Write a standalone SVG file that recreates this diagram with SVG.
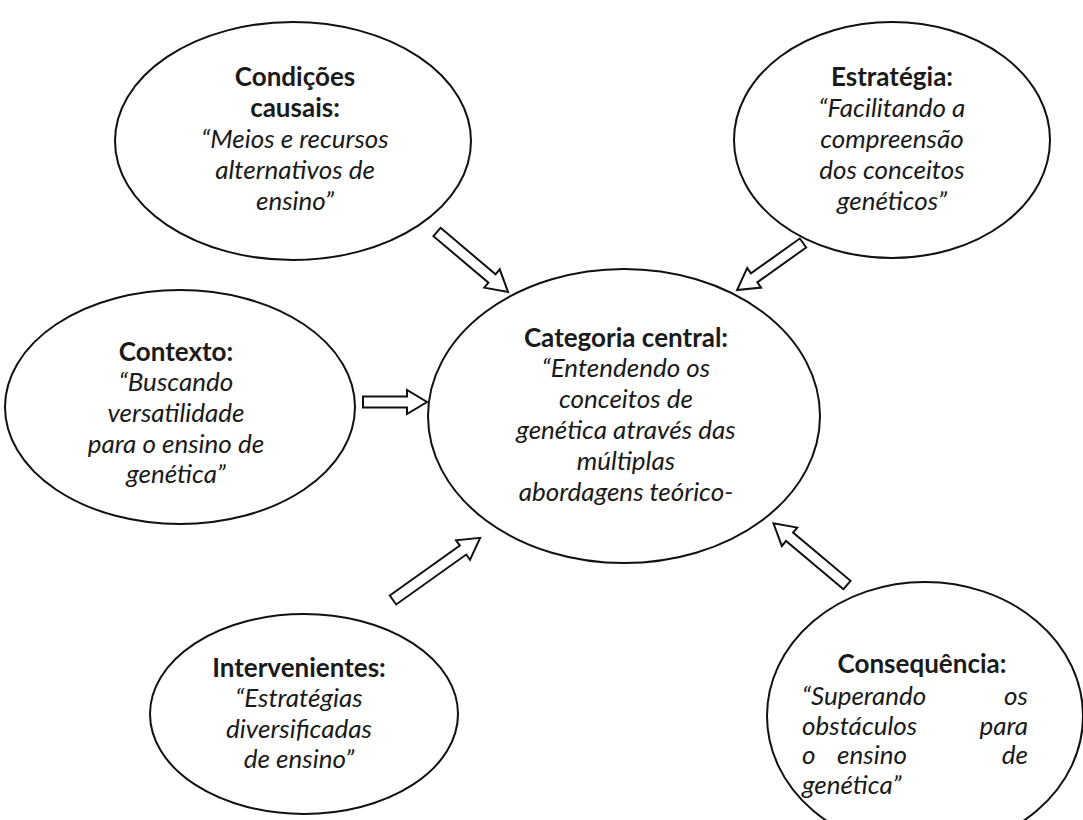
<svg xmlns="http://www.w3.org/2000/svg" width="1083" height="820" viewBox="0 0 1083 820">
  <style>
    .bubble { fill: #ffffff; stroke: #111111; stroke-width: 2; }
    .arrow { fill: #ffffff; stroke: #111111; stroke-width: 2; stroke-linejoin: miter; }
    text { font-family: Lato, "Open Sans", "Liberation Sans", sans-serif; font-size: 26px; fill: #1a1a1a; text-anchor: middle; }
    .title { font-weight: bold; }
    .quote { font-style: italic; }
    .start { text-anchor: start; }
    .end { text-anchor: end; }
    .mid { text-anchor: middle; }
  </style>
  <defs>
    <clipPath id="clipContexto">
      <rect x="0" y="280" width="360" height="207"/>
    </clipPath>
  </defs>
  <rect x="0" y="0" width="1083" height="820" fill="#ffffff"/>

  <g id="connectors">
    <path class="arrow" transform="translate(437,232) rotate(40.2)" d="M0,-5.5 L72,-5.5 L72,-12 L93,0 L72,12 L72,5.5 L0,5.5 Z"/>
    <path class="arrow" transform="translate(803,243) rotate(144.5)" d="M0,-5.5 L60,-5.5 L60,-12 L81,0 L60,12 L60,5.5 L0,5.5 Z"/>
    <path class="arrow" transform="translate(363,402)" d="M0,-5.5 L44,-5.5 L44,-12 L64,0 L44,12 L44,5.5 L0,5.5 Z"/>
    <path class="arrow" transform="translate(393,600) rotate(-35.5)" d="M0,-5.5 L86,-5.5 L86,-12 L107,0 L86,12 L86,5.5 L0,5.5 Z"/>
    <path class="arrow" transform="translate(847,585) rotate(-140)" d="M0,-5.5 L75,-5.5 L75,-12 L96,0 L75,12 L75,5.5 L0,5.5 Z"/>
  </g>

  <g id="node-condicoes">
    <ellipse class="bubble" cx="293" cy="141" rx="178" ry="119"/>
    <text x="295" y="86" class="title">Condições</text>
    <text x="295" y="117" class="title">causais:</text>
    <text x="295" y="148" class="quote">“Meios e recursos</text>
    <text x="295" y="179" class="quote">alternativos de</text>
    <text x="295" y="210" class="quote">ensino”</text>
  </g>

  <g id="node-estrategia">
    <ellipse class="bubble" cx="892" cy="140" rx="158" ry="118"/>
    <text x="892" y="86" class="title">Estratégia:</text>
    <text x="892" y="117" class="quote">“Facilitando a</text>
    <text x="892" y="148" class="quote">compreensão</text>
    <text x="892" y="179" class="quote">dos conceitos</text>
    <text x="892" y="210" class="quote">genéticos”</text>
  </g>

  <g id="node-contexto">
    <ellipse class="bubble" cx="180" cy="407" rx="175" ry="117"/>
    <g clip-path="url(#clipContexto)">
      <text x="176" y="361" class="title">Contexto:</text>
      <text x="176" y="391" class="quote">“Buscando</text>
      <text x="176" y="422" class="quote">versatilidade</text>
      <text x="176" y="453" class="quote">para o ensino de</text>
      <text x="176" y="483" class="quote">genética”</text>
    </g>
  </g>

  <g id="node-central">
    <ellipse class="bubble" cx="624" cy="416" rx="196" ry="147"/>
    <text x="626" y="347" class="title">Categoria central:</text>
    <text x="626" y="377" class="quote">“Entendendo os</text>
    <text x="626" y="408" class="quote">conceitos de</text>
    <text x="626" y="439" class="quote">genética através das</text>
    <text x="626" y="470" class="quote">múltiplas</text>
    <text x="626" y="501" class="quote">abordagens teórico-</text>
  </g>

  <g id="node-intervenientes">
    <ellipse class="bubble" cx="304" cy="714" rx="154" ry="100"/>
    <text x="299" y="677" class="title">Intervenientes:</text>
    <text x="299" y="707" class="quote">“Estratégias</text>
    <text x="299" y="738" class="quote">diversificadas</text>
    <text x="299" y="768" class="quote">de ensino”</text>
  </g>

  <g id="node-consequencia">
    <ellipse class="bubble" cx="925" cy="716" rx="158" ry="134"/>
    <text x="922" y="673" class="title">Consequência:</text>
    <text y="705" class="quote"><tspan x="802" class="start">“Superando</tspan><tspan x="1028" class="end">os</tspan></text>
    <text y="735" class="quote"><tspan x="802" class="start">obstáculos</tspan><tspan x="1028" class="end">para</tspan></text>
    <text y="764" class="quote"><tspan x="802" class="start">o</tspan><tspan x="872" class="mid">ensino</tspan><tspan x="1028" class="end">de</tspan></text>
    <text x="802" y="794" class="quote start">genética”</text>
  </g>
</svg>
